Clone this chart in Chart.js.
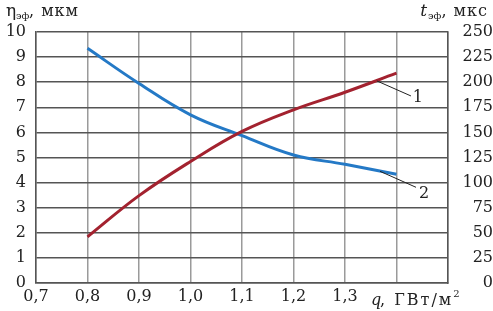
<!DOCTYPE html>
<html>
<head>
<meta charset="utf-8">
<style>
  html, body { margin: 0; padding: 0; background: #fff; }
  canvas { display: block; }
</style>
</head>
<body>
<canvas id="chart" width="493" height="311"></canvas>
<script src="https://cdn.jsdelivr.net/npm/chart.js"></script>
<script>
// q, ГВт/м2
const qValues = [0.8, 0.9, 1.0, 1.1, 1.2, 1.3, 1.4];
// кривая 1 : t_эф, мкс (правая ось)
const curve1 = [46, 87, 121, 151, 172.5, 190, 209];
// кривая 2 : η_эф, мкм (левая ось)
const curve2 = [9.35, 7.95, 6.7, 5.87, 5.1, 4.73, 4.33];
// подписи кривых: номер, точка на кривой (q, значение по левой оси)
const curveLabels = ['1', '2'];
const labelAnchorQ = [1.362, 1.368];
const labelAnchorV = [8.05, 4.45];

const serif = "'DejaVu Serif', serif";

// подписи осей и номера кривых
const annotations = {
  id: 'annotations',
  afterDraw(chart) {
    const { ctx, chartArea, scales } = chart;
    ctx.save();
    ctx.fillStyle = '#222';
    ctx.textBaseline = 'alphabetic';

    // η эф, мкм
    ctx.textAlign = 'left';
    ctx.font = '17px ' + serif;
    ctx.fillText('η', 6, 16);
    ctx.font = '10px ' + serif;
    ctx.fillText('эф', 16, 19);
    ctx.font = '16px ' + serif;
    ctx.letterSpacing = '1px';
    ctx.fillText(', мкм', 29, 16);

    // t эф, мкс (выровнено по правому краю)
    ctx.textAlign = 'right';
    ctx.font = '16px ' + serif;
    ctx.fillText(', мкс', 488, 16);
    let x = 488 - ctx.measureText(', мкс').width;
    ctx.letterSpacing = '0px';
    ctx.font = '10px ' + serif;
    ctx.fillText('эф', x, 19);
    x -= ctx.measureText('эф').width + 1;
    ctx.font = 'italic 17px ' + serif;
    ctx.fillText('t', x, 16);

    // q, ГВт/м2
    ctx.textAlign = 'left';
    const yb = chartArea.bottom + 22;
    ctx.font = 'italic 16px ' + serif;
    ctx.fillText('q', 371, yb);
    ctx.font = '16px ' + serif;
    ctx.letterSpacing = '2px';
    ctx.fillText(', ГВт/м', 380, yb);
    const w = ctx.measureText(', ГВт/м').width;
    ctx.letterSpacing = '0px';
    ctx.font = '10px ' + serif;
    ctx.fillText('2', 380 + w, yb - 8);

    // номера кривых с выносками
    ctx.strokeStyle = '#222';
    ctx.lineWidth = 1;
    ctx.font = '16px ' + serif;
    ctx.textAlign = 'center';
    ctx.textBaseline = 'middle';
    const lineEnd = [[34, 15], [36, 16]];
    const textPos = [[41, 17], [44, 23]];
    curveLabels.forEach((t, i) => {
      const x0 = scales.x.getPixelForValue(labelAnchorQ[i]);
      const y0 = scales.y.getPixelForValue(labelAnchorV[i]);
      ctx.beginPath();
      ctx.moveTo(x0, y0);
      ctx.lineTo(x0 + lineEnd[i][0], y0 + lineEnd[i][1]);
      ctx.stroke();
      ctx.fillText(t, x0 + textPos[i][0], y0 + textPos[i][1]);
    });
    ctx.restore();
  }
};

new Chart(document.getElementById('chart'), {
  type: 'line',
  data: {
    datasets: [
      {
        label: '1',
        data: qValues.map((q, i) => ({ x: q, y: curve1[i] })),
        yAxisID: 'y1',
        borderColor: '#a3222f',
        borderWidth: 3,
        pointRadius: 0,
        tension: 0.4,
        fill: false
      },
      {
        label: '2',
        data: qValues.map((q, i) => ({ x: q, y: curve2[i] })),
        yAxisID: 'y',
        borderColor: '#2479c6',
        borderWidth: 3,
        pointRadius: 0,
        tension: 0.4,
        fill: false
      }
    ]
  },
  options: {
    responsive: false,
    devicePixelRatio: 1,
    animation: false,
    layout: { padding: { top: 32, left: 0, right: 0, bottom: 0 } },
    plugins: { legend: { display: false }, tooltip: { enabled: false } },
    scales: {
      x: {
        type: 'linear',
        min: 0.7,
        max: 1.5,
        afterFit: s => { s.height = 28; },
        ticks: {
          stepSize: 0.1,
          padding: 4,
          color: '#222',
          font: { family: serif, size: 16 },
          callback: v => {
            const r = Math.round(v * 10) / 10;
            if (r >= 1.4) return '';
            return r.toFixed(1).replace('.', ',');
          }
        },
        grid: { color: '#9a9a9a', lineWidth: 1.5, drawTicks: false },
        border: { color: '#555', width: 1.5 }
      },
      y: {
        position: 'left',
        min: 0,
        max: 10,
        afterFit: s => { s.width = 36; },
        ticks: {
          stepSize: 1,
          padding: 10,
          color: '#222',
          font: { family: serif, size: 16 }
        },
        grid: { color: '#555', lineWidth: 1.5, drawTicks: false },
        border: { color: '#555', width: 1.5 }
      },
      y1: {
        position: 'right',
        min: 0,
        max: 250,
        afterFit: s => { s.width = 45; },
        ticks: {
          stepSize: 25,
          padding: 8,
          crossAlign: 'far',
          color: '#222',
          font: { family: serif, size: 16 }
        },
        grid: { display: false, drawTicks: false },
        border: { color: '#555', width: 1.5 }
      }
    }
  },
  plugins: [annotations]
});
</script>
</body>
</html>
